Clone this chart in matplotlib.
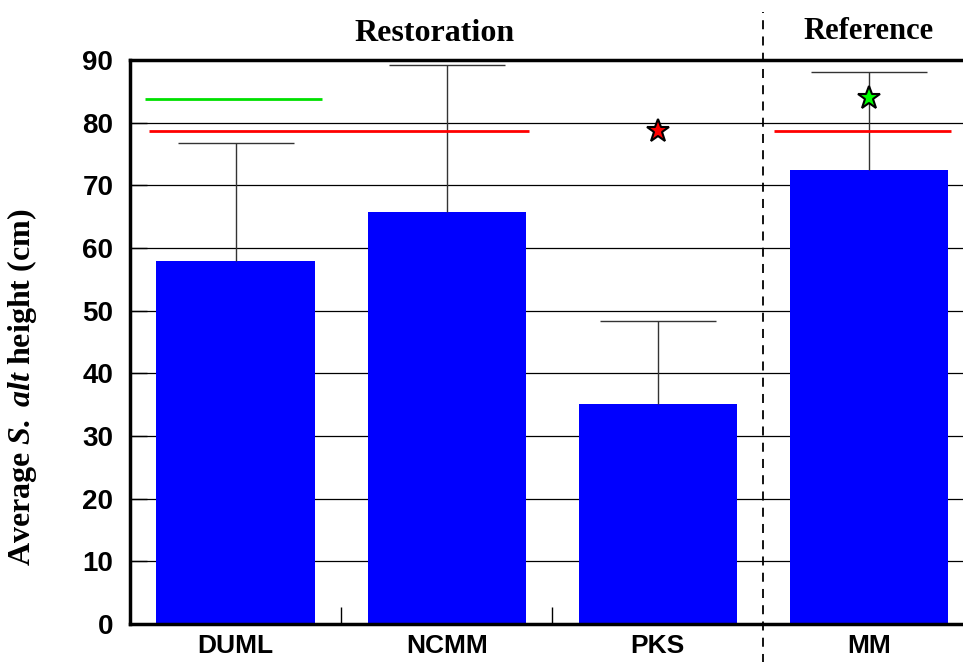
import numpy as np
import matplotlib.pyplot as plt
from matplotlib.ticker import FixedLocator

plt.rcParams['mathtext.fontset'] = 'custom'
plt.rcParams['mathtext.rm'] = 'Liberation Serif:bold'
plt.rcParams['mathtext.bfit'] = 'Liberation Serif:italic:bold'
plt.rcParams['mathtext.it'] = 'Liberation Serif:italic:bold'

# datos
sitios = ["DUML", "NCMM", "PKS", "MM"]
altura = [57.9, 65.7, 35.1, 72.4]
error_sup = [18.9, 23.5, 13.3, 15.7]

# lineas de referencia (valor, x inicio, x fin)
linea_verde = [83.7, -0.43, 0.41]
linea_roja = [78.6, -0.41, 1.39]
linea_roja_mm = [78.6, 2.55, 3.39]
estrella_roja = [2, 78.7]
estrella_verde = [3, 84.0]

x = np.arange(len(sitios))

fig = plt.figure(figsize=(9.63, 6.62), dpi=100)
ax = fig.add_axes([130 / 963, 38 / 662, 844.5 / 963, 564 / 662])

ax.bar(x, altura, width=0.75, color='#0000ff', zorder=2)
eb = ax.errorbar(x, altura, yerr=[np.zeros(len(x)), error_sup], fmt='none',
                 ecolor='#333333', elinewidth=1, capsize=42, capthick=1, zorder=3)
# quitar la tapa de abajo (queda sobre la barra)
for cap in eb[1]:
    if np.allclose(cap.get_ydata(), altura):
        cap.set_visible(False)

ax.hlines(linea_verde[0], linea_verde[1], linea_verde[2], color='#00e000', lw=2, zorder=4)
ax.hlines(linea_roja[0], linea_roja[1], linea_roja[2], color='#ff0000', lw=2, zorder=4)
ax.hlines(linea_roja_mm[0], linea_roja_mm[1], linea_roja_mm[2], color='#ff0000', lw=2, zorder=4)
ax.plot(estrella_roja[0], estrella_roja[1], marker='*', ms=17, mfc='#ff0000',
        mec='black', mew=1.5, zorder=5)
ax.plot(estrella_verde[0], estrella_verde[1], marker='*', ms=17, mfc='#00ff00',
        mec='black', mew=1.5, zorder=5)

ax.set_xlim(-0.5, 3.5)
ax.set_ylim(0, 90)
ax.set_yticks(np.arange(0, 91, 10))
ax.yaxis.grid(True, color='black', lw=0.9, zorder=1)
ax.set_axisbelow(True)

ax.set_xticks(x)
ax.set_xticklabels(sitios, fontfamily='Liberation Sans', fontweight='bold', fontsize=19)
ax.xaxis.set_minor_locator(FixedLocator([0.5, 1.5]))
ax.tick_params(axis='x', which='major', length=0, pad=7)
ax.tick_params(axis='x', which='minor', direction='in', length=12, width=1)
ax.tick_params(axis='y', direction='in', length=12, width=1, pad=12,
               labelsize=20)
for lab in ax.get_yticklabels():
    lab.set_fontfamily('Liberation Sans')
    lab.set_fontweight('bold')

for s in ['left', 'bottom', 'top']:
    ax.spines[s].set_linewidth(2.5)
ax.spines['right'].set_visible(False)

ax.axvline(2.5, ymin=-0.07, ymax=1.085, color='black', ls=(0, (5, 4)), lw=1.3,
           clip_on=False, zorder=6)

ax.set_ylabel(r"Average $\mathbfit{S.\;alt}$ height (cm)", fontfamily='Liberation Serif',
              fontweight='bold', fontsize=23)
ax.yaxis.set_label_coords(-0.108, 0.42)
ax.text(0.94, 94.2, "Restoration", ha='center', va='center', fontfamily='Liberation Serif',
        fontweight='bold', fontsize=23)
ax.text(3.0, 94.5, "Reference", ha='center', va='center', fontfamily='Liberation Serif',
        fontweight='bold', fontsize=22)

fig.savefig("out.png", dpi=100)
